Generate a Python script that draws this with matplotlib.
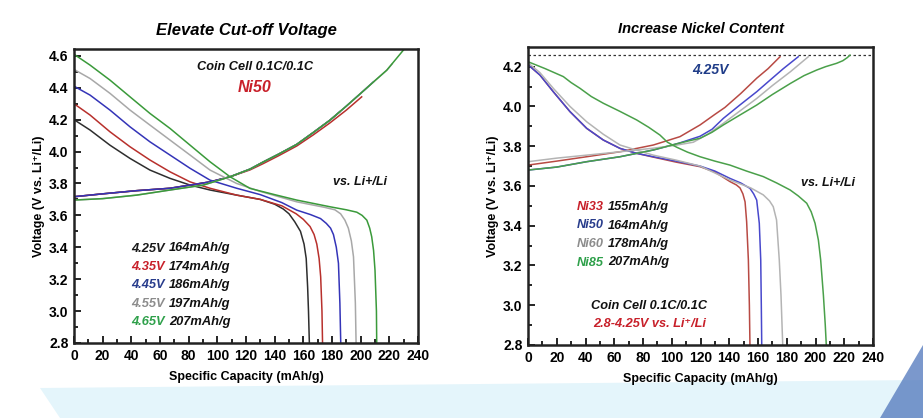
import matplotlib
matplotlib.use("Agg")
import matplotlib.pyplot as plt
from matplotlib.patches import Polygon
from matplotlib.ticker import MultipleLocator, FormatStrFormatter

plt.rcParams['font.family'] = ['Liberation Sans', 'DejaVu Sans']
plt.rcParams['font.weight'] = 'bold'

# ---------------- left panel: Ni50 at different cut-off voltages ----------------
cutoff_labels = ['4.25V', '4.35V', '4.45V', '4.55V', '4.65V']
cutoff_caps = ['164mAh/g', '174mAh/g', '186mAh/g', '197mAh/g', '207mAh/g']
cutoff_colors = ['#2e2e2e', '#b8302c', '#3434b8', '#a8a8a8', '#3a9a3a']
cutoff_text_colors = ['#1a1a1a', '#c8202a', '#283c8c', '#8c8c8c', '#2ea04a']

chg_425_x = [0, 20, 43.7, 67, 81, 94.9, 108.9, 122.8, 132.1, 143, 155.4, 167, 178.6, 185.5]
chg_425_y = [3.717, 3.735, 3.755, 3.77, 3.79, 3.81, 3.842, 3.89, 3.935, 3.985, 4.045, 4.12, 4.197, 4.25]
chg_435_x = [0, 20, 43.7, 67, 81, 94.9, 108.9, 122.8, 132.1, 143, 155.4, 167, 178.6, 190, 200.7]
chg_435_y = [3.717, 3.735, 3.755, 3.77, 3.79, 3.81, 3.842, 3.885, 3.925, 3.975, 4.035, 4.105, 4.18, 4.26, 4.343]
chg_445_x = [0, 20, 43.7, 67, 81, 94.9, 108.9, 122.8, 132.1, 143, 155.4, 167, 178.6, 190, 201.9, 208.9]
chg_445_y = [3.717, 3.735, 3.755, 3.77, 3.79, 3.81, 3.842, 3.89, 3.935, 3.985, 4.045, 4.12, 4.197, 4.285, 4.38, 4.437]
chg_455_x = [0, 20, 43.7, 67, 90.2, 108.9, 122.8, 132.1, 143, 155.4, 167, 178.6, 190, 201.9, 210, 218.2, 222]
chg_455_y = [3.696, 3.705, 3.727, 3.759, 3.79, 3.842, 3.89, 3.935, 3.985, 4.045, 4.12, 4.197, 4.285, 4.38, 4.445, 4.51, 4.55]
chg_465_x = [0, 20, 43.7, 67, 90.2, 108.9, 122.8, 132.1, 143, 155.4, 167, 178.6, 190, 201.9, 210, 218.2, 229.8, 234]
chg_465_y = [3.696, 3.705, 3.727, 3.759, 3.79, 3.842, 3.89, 3.935, 3.985, 4.045, 4.12, 4.197, 4.285, 4.38, 4.445, 4.51, 4.636, 4.68]

dis_425_x = [0, 11.2, 25.1, 39.1, 53, 67, 81, 94.9, 113.5, 130, 140, 146, 150, 154, 158, 160.5, 162, 163, 163.6, 164.2]
dis_425_y = [4.20, 4.135, 4.04, 3.957, 3.884, 3.832, 3.79, 3.759, 3.727, 3.70, 3.67, 3.64, 3.61, 3.56, 3.50, 3.42, 3.33, 3.15, 3.0, 2.8]
dis_435_x = [0, 11.2, 25.1, 39.1, 53, 67, 81, 94.9, 113.5, 130, 145, 155, 160, 164.7, 167.5, 169.4, 171, 172.1, 173, 173.4]
dis_435_y = [4.30, 4.229, 4.124, 4.03, 3.947, 3.873, 3.81, 3.77, 3.727, 3.70, 3.66, 3.61, 3.575, 3.53, 3.48, 3.42, 3.33, 3.215, 3.0, 2.8]
dis_445_x = [0, 11.2, 25.1, 39.1, 53, 67, 81, 94.9, 113.5, 130, 145, 155.4, 165, 172, 176, 179, 181, 183, 184.5, 185.5, 186.1]
dis_445_y = [4.41, 4.354, 4.26, 4.155, 4.061, 3.978, 3.895, 3.821, 3.77, 3.73, 3.68, 3.633, 3.605, 3.58, 3.55, 3.52, 3.48, 3.40, 3.30, 3.05, 2.8]
dis_455_x = [0, 11.2, 25.1, 39.1, 53, 67, 81, 94.9, 113.5, 130, 155.4, 175, 182, 186, 189, 191.4, 193.5, 195, 196.3, 196.8]
dis_455_y = [4.515, 4.458, 4.365, 4.26, 4.166, 4.072, 3.978, 3.884, 3.80, 3.75, 3.685, 3.65, 3.635, 3.61, 3.57, 3.52, 3.44, 3.34, 3.05, 2.8]
dis_465_x = [0, 11.2, 25.1, 39.1, 53, 67, 81, 94.9, 108.9, 122.8, 140, 155.4, 178.6, 190, 197.3, 201, 204.3, 206.3, 207.7, 209, 210, 211, 211.2]
dis_465_y = [4.61, 4.542, 4.448, 4.343, 4.239, 4.145, 4.04, 3.936, 3.842, 3.769, 3.73, 3.696, 3.654, 3.635, 3.62, 3.60, 3.57, 3.52, 3.466, 3.38, 3.257, 3.0, 2.8]

left_chg = [(chg_425_x, chg_425_y), (chg_435_x, chg_435_y), (chg_445_x, chg_445_y),
            (chg_455_x, chg_455_y), (chg_465_x, chg_465_y)]
left_dis = [(dis_425_x, dis_425_y), (dis_435_x, dis_435_y), (dis_445_x, dis_445_y),
            (dis_455_x, dis_455_y), (dis_465_x, dis_465_y)]

# ---------------- right panel: different nickel content at 4.25V ----------------
ni_labels = ['Ni33', 'Ni50', 'Ni60', 'Ni85']
ni_caps = ['155mAh/g', '164mAh/g', '178mAh/g', '207mAh/g']
ni_colors = ['#b84a44', '#4848cc', '#b4b4b4', '#4aa04a']
ni_text_colors = ['#c8202a', '#283c8c', '#8c8c8c', '#2ea04a']

ni33_chg_x = [0, 20, 40.8, 64, 87.2, 105.7, 119.7, 130, 137, 148, 159.1, 167, 175.3]
ni33_chg_y = [3.705, 3.725, 3.747, 3.772, 3.806, 3.848, 3.907, 3.96, 3.995, 4.065, 4.142, 4.19, 4.25]
ni50_chg_x = [0, 0, 20, 40.8, 64, 87.2, 105, 119.7, 128, 135.9, 147, 159.1, 168, 177.6, 188]
ni50_chg_y = [3.3, 3.68, 3.695, 3.722, 3.747, 3.781, 3.815, 3.85, 3.885, 3.94, 4.005, 4.074, 4.13, 4.19, 4.25]
ni60_chg_x = [0, 20, 40.8, 64, 87.2, 103, 115, 125, 135.9, 147, 159.1, 170, 182.6, 195]
ni60_chg_y = [3.722, 3.74, 3.755, 3.772, 3.79, 3.805, 3.82, 3.86, 3.915, 3.975, 4.04, 4.105, 4.175, 4.25]
ni85_chg_x = [0, 20, 40.8, 64, 87.2, 105, 119.7, 128, 135.9, 147, 159.1, 170, 182.6, 192, 200.8, 207, 214.7, 219, 222, 224]
ni85_chg_y = [3.68, 3.695, 3.722, 3.747, 3.781, 3.815, 3.84, 3.87, 3.907, 3.955, 4.007, 4.06, 4.116, 4.155, 4.183, 4.20, 4.217, 4.23, 4.245, 4.258]

ni33_dis_x = [0, 8.3, 17.6, 29.2, 40.8, 52.4, 64, 75.6, 87.2, 103, 119.7, 130, 140.5, 145, 147.5, 149.5, 151, 152.1, 153.3, 154, 154.4]
ni33_dis_y = [4.21, 4.158, 4.074, 3.974, 3.89, 3.831, 3.789, 3.764, 3.745, 3.72, 3.697, 3.67, 3.622, 3.605, 3.59, 3.56, 3.52, 3.42, 3.228, 3.0, 2.8]
ni50_dis_x = [0, 8.3, 17.6, 29.2, 40.8, 52.4, 64, 75.6, 87.2, 103, 119.7, 130, 140.5, 148, 154.4, 157, 159.1, 160.9, 161.9, 162.3, 162.6]
ni50_dis_y = [4.21, 4.158, 4.074, 3.974, 3.89, 3.831, 3.789, 3.764, 3.747, 3.725, 3.70, 3.675, 3.638, 3.615, 3.588, 3.56, 3.529, 3.412, 3.228, 3.0, 2.8]
ni60_dis_x = [0, 8.3, 17.6, 29.2, 40.8, 52.4, 64, 75.6, 87.2, 103, 119.7, 140.5, 155, 163.7, 168, 170.6, 172.9, 174.8, 176, 177.2]
ni60_dis_y = [4.22, 4.17, 4.091, 4.0, 3.923, 3.86, 3.806, 3.78, 3.755, 3.73, 3.70, 3.63, 3.59, 3.555, 3.525, 3.496, 3.429, 3.228, 3.05, 2.8]
ni85_dis_x = [0, 12, 24.6, 30, 36.2, 44, 52.4, 64, 75.6, 84, 91.8, 97, 103.4, 111, 119.7, 130, 140.5, 152, 163.7,
              173, 182.3, 188, 193.9, 197, 199.7, 202, 203.6, 205.5, 206.8, 207.5]
ni85_dis_y = [4.225, 4.19, 4.15, 4.12, 4.091, 4.05, 4.016, 3.975, 3.932, 3.895, 3.856, 3.82, 3.795, 3.77, 3.747, 3.725, 3.705, 3.675, 3.647,
              3.615, 3.58, 3.55, 3.513, 3.47, 3.412, 3.328, 3.228, 3.05, 2.9, 2.8]

right_chg = [(ni33_chg_x, ni33_chg_y), (ni50_chg_x, ni50_chg_y), (ni60_chg_x, ni60_chg_y), (ni85_chg_x, ni85_chg_y)]
right_dis = [(ni33_dis_x, ni33_dis_y), (ni50_dis_x, ni50_dis_y), (ni60_dis_x, ni60_dis_y), (ni85_dis_x, ni85_dis_y)]
cutoff_line = 4.258

W, H = 923, 418


def fig_xy(px, py):
    return px / W, 1 - py / H


def style_axes(ax, ymax, title, title_size):
    ax.set_xlim(0, 240)
    ax.set_ylim(2.8, ymax)
    ax.xaxis.set_major_locator(MultipleLocator(20))
    ax.xaxis.set_minor_locator(MultipleLocator(10))
    ax.yaxis.set_major_locator(MultipleLocator(0.2))
    ax.yaxis.set_minor_locator(MultipleLocator(0.1))
    ax.yaxis.set_major_formatter(FormatStrFormatter('%.1f'))
    ax.tick_params(which='both', direction='in', top=False, right=False, labelsize=10, width=1.2)
    ax.tick_params(which='major', length=5, pad=4)
    ax.tick_params(which='minor', length=3)
    for lab in ax.get_xticklabels() + ax.get_yticklabels():
        lab.set_fontweight('bold')
    for sp in ax.spines.values():
        sp.set_linewidth(1.8)
        sp.set_color('#222222')
    ax.set_xlabel('Specific Capacity (mAh/g)', fontsize=9, fontweight='bold', labelpad=6)
    ax.set_ylabel('Voltage (V vs. Li⁺/Li)', fontsize=9, fontweight='bold', labelpad=3)
    ax.set_title(title, fontsize=title_size, style='italic', fontweight='bold', pad=10)


fig = plt.figure(figsize=(W / 100, H / 100), dpi=100)

# light decorative swoosh behind the panels
bg = fig.add_axes([0, 0, 1, 1], zorder=-5)
bg.set_xlim(0, W)
bg.set_ylim(H, 0)
bg.axis('off')
bg.add_patch(Polygon([(40, 388), (923, 380), (923, 418), (60, 418)], closed=True,
                     facecolor='#e4f5fb', edgecolor='none'))
bg.add_patch(Polygon([(880, 418), (923, 345), (923, 418)], closed=True,
                     facecolor='#5a7fc0', edgecolor='none', alpha=0.8))

axL = fig.add_axes([74 / W, 1 - 343 / H, 344 / W, 294 / H])
style_axes(axL, 4.643, 'Elevate Cut-off Voltage', 12)
for (cx, cy), (dx, dy), col in zip(left_chg, left_dis, cutoff_colors):
    axL.plot(cx, cy, color=col, lw=1.1)
    axL.plot(dx, dy, color=col, lw=1.1)

axR = fig.add_axes([528 / W, 1 - 345 / H, 345 / W, 298 / H])
style_axes(axR, 4.299, 'Increase Nickel Content', 10.5)
axR.axhline(cutoff_line, color='#333333', lw=0.9, ls=(0, (2, 2)))
for (cx, cy), (dx, dy), col in zip(right_chg, right_dis, ni_colors):
    axR.plot(cx, cy, color=col, lw=1.1)
    axR.plot(dx, dy, color=col, lw=1.1)

ital = dict(style='italic', fontweight='bold')

# left panel annotations
fig.text(*fig_xy(255, 67), 'Coin Cell 0.1C/0.1C', ha='center', va='center', fontsize=9.2, color='#111111', **ital)
fig.text(*fig_xy(255, 87), 'Ni50', ha='center', va='center', fontsize=11.5, color='#c8202a', **ital)
fig.text(*fig_xy(360, 182), 'vs. Li+/Li', ha='center', va='center', fontsize=9, color='#111111', **ital)
for i, (lab, cap, tc) in enumerate(zip(cutoff_labels, cutoff_caps, cutoff_text_colors)):
    t = fig.text(*fig_xy(131, 248.5 + 18.4 * i), lab, ha='left', va='center', fontsize=9.3, color=tc, **ital)
    axL.annotate(cap, xy=(1, 0.5), xycoords=t, xytext=(3, 0), textcoords='offset points',
                 ha='left', va='center', fontsize=9.3, color='#111111', **ital)

# right panel annotations
fig.text(*fig_xy(710, 70), '4.25V', ha='center', va='center', fontsize=10, color='#1f3c88', **ital)
fig.text(*fig_xy(828, 183), 'vs. Li+/Li', ha='center', va='center', fontsize=9, color='#111111', **ital)
for i, (lab, cap, tc) in enumerate(zip(ni_labels, ni_caps, ni_text_colors)):
    t = fig.text(*fig_xy(577, 207 + 18.5 * i), lab, ha='left', va='center', fontsize=9.2, color=tc, **ital)
    axR.annotate(cap, xy=(1, 0.5), xycoords=t, xytext=(3, 0), textcoords='offset points',
                 ha='left', va='center', fontsize=9.2, color='#111111', **ital)
fig.text(*fig_xy(649, 306), 'Coin Cell 0.1C/0.1C', ha='center', va='center', fontsize=9.2, color='#111111', **ital)
fig.text(*fig_xy(650, 324), '2.8-4.25V vs. Li⁺/Li', ha='center', va='center', fontsize=9.2, color='#c8202a', **ital)

fig.savefig('out.png', dpi=100, facecolor='white')
